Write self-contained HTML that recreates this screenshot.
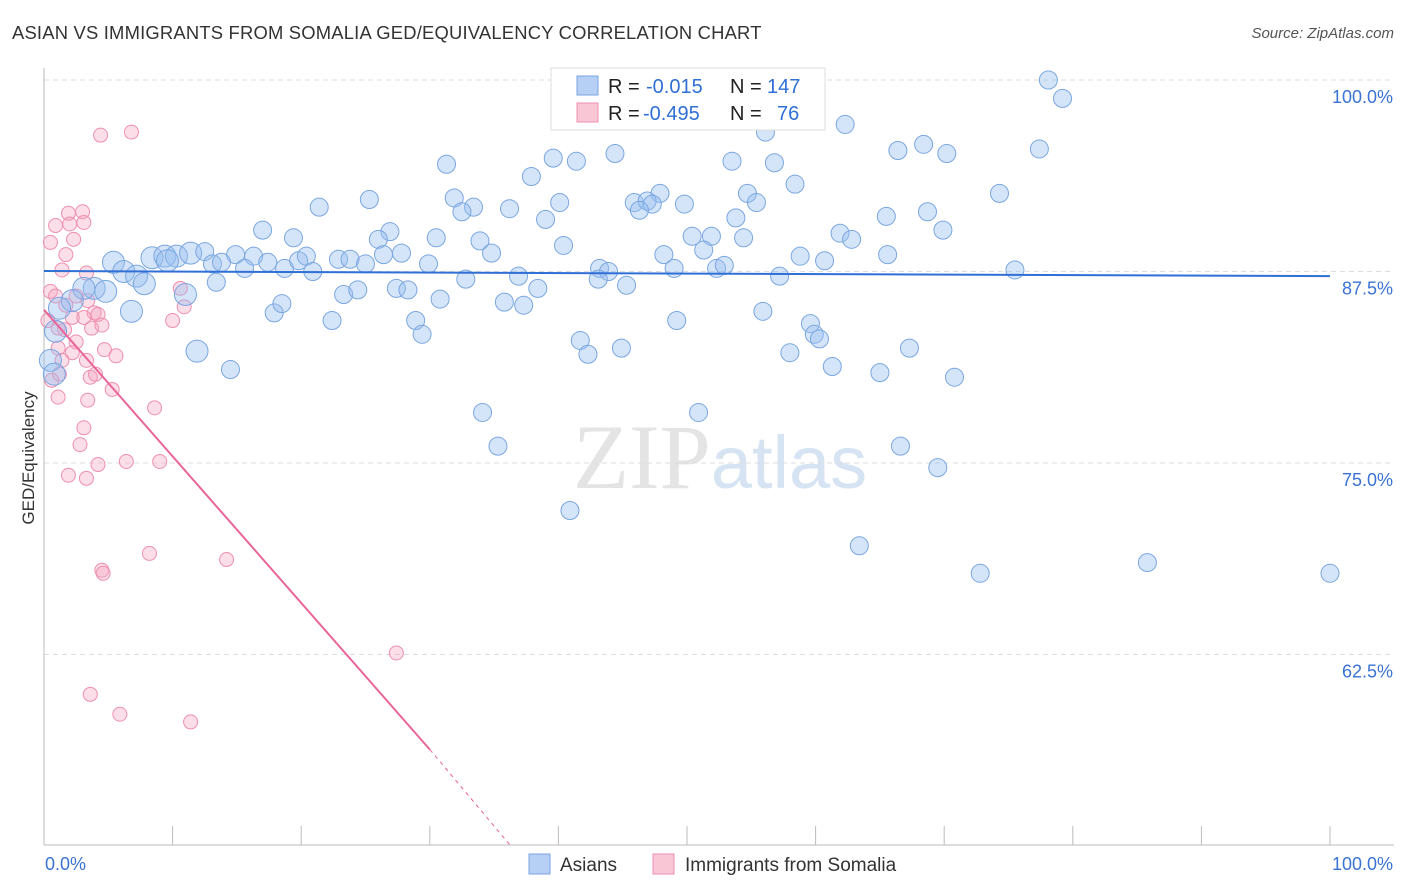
<!DOCTYPE html>
<html><head><meta charset="utf-8">
<style>
body{margin:0;background:#fff;font-family:"Liberation Sans",sans-serif;}
#wrap{position:relative;width:1406px;height:892px;overflow:hidden;}
.t{position:absolute;white-space:nowrap;}
</style></head><body>
<div id="wrap">
<div class="t" style="left:12px;top:22px;font-size:18.4px;color:#333;letter-spacing:0.2px">ASIAN VS IMMIGRANTS FROM SOMALIA GED/EQUIVALENCY CORRELATION CHART</div>
<div class="t" style="right:12px;top:25px;font-size:15px;color:#555;font-style:italic">Source: ZipAtlas.com</div>
<svg id="chart" width="1406" height="892" style="position:absolute;left:0;top:0"></svg>
</div>
<script>
const yTickValues=[100,87.5,75,62.5];
const yTickLabels=["100.0%","87.5%","75.0%","62.5%"];
const xTickValues=[0,10,20,30,40,50,60,70,80,90,100];
const asianX=[78.1,79.2,62.3,56.1,77.4,68.4,66.4,70.2,44.4,39.6,41.4,53.5,56.8,31.3,37.9,58.4,74.3,54.7,47.9,45.9,46.9,47.3,31.9,25.3,21.4,33.4,32.5,36.2,40.1,49.8,55.4,46.3,68.7,65.5,39.0,53.8,17.0,19.4,26.9,26.0,30.5,33.9,40.4,50.4,51.9,54.4,61.9,62.8,69.9,5.4,8.4,9.4,10.3,11.4,12.5,14.9,16.3,9.6,13.1,13.8,15.6,17.4,18.7,19.8,20.4,20.9,22.9,23.8,25.0,26.4,27.8,29.9,34.8,36.9,38.4,35.8,37.3,43.2,43.9,43.1,45.3,48.2,49.0,51.3,52.3,52.9,58.8,60.7,65.6,75.5,57.2,6.2,7.2,7.8,3.9,4.8,3.1,2.2,1.2,6.8,0.9,0.5,0.8,11.0,13.4,17.9,18.5,22.4,23.3,24.4,27.4,28.3,30.8,32.8,28.9,29.4,41.7,42.3,44.9,49.2,55.9,59.6,59.9,60.3,58.0,61.3,65.0,67.3,70.8,11.9,14.5,34.1,35.3,50.9,66.6,69.5,40.9,63.4,72.8,85.8,100];
const asianY=[100.0,98.8,97.1,96.6,95.5,95.8,95.4,95.2,95.2,94.9,94.7,94.7,94.6,94.5,93.7,93.2,92.6,92.6,92.6,92.0,92.1,91.9,92.3,92.2,91.7,91.7,91.4,91.6,92.0,91.9,92.0,91.5,91.4,91.1,90.9,91.0,90.2,89.7,90.1,89.6,89.7,89.5,89.2,89.8,89.8,89.7,90.0,89.6,90.2,88.1,88.4,88.5,88.5,88.7,88.8,88.6,88.5,88.2,88.0,88.1,87.7,88.1,87.7,88.2,88.5,87.5,88.3,88.3,88.0,88.6,88.7,88.0,88.7,87.2,86.4,85.5,85.3,87.7,87.5,87.0,86.6,88.6,87.7,88.9,87.7,87.9,88.5,88.2,88.6,87.6,87.2,87.5,87.2,86.7,86.4,86.2,86.4,85.6,85.1,84.9,83.6,81.7,80.8,86.0,86.8,84.8,85.4,84.3,86.0,86.3,86.4,86.3,85.7,87.0,84.3,83.4,83.0,82.1,82.5,84.3,84.9,84.1,83.4,83.1,82.2,81.3,80.9,82.5,80.6,82.3,81.1,78.3,76.1,78.3,76.1,74.7,71.9,69.6,67.8,68.5,67.8];
const somaliaX=[4.4,6.8,0.9,1.9,2.0,3.0,3.1,2.3,1.7,0.5,1.4,3.3,0.5,0.9,1.7,2.5,3.4,3.9,0.3,1.1,1.6,2.2,3.1,3.7,4.2,4.5,1.1,2.2,2.5,3.3,4.7,5.6,3.6,4.0,1.2,5.3,3.4,1.1,3.1,2.8,4.2,6.4,9.0,1.9,3.3,8.6,10.6,10.9,10.0,8.2,14.2,4.5,4.6,27.4,3.6,5.9,11.4,0.6,1.4];
const somaliaY=[96.4,96.6,90.5,91.3,90.6,91.4,90.7,89.6,88.6,89.4,87.6,87.4,86.2,85.9,85.3,85.9,85.6,84.8,84.3,83.8,83.7,84.5,84.5,83.8,84.7,84.0,82.5,82.2,82.9,81.7,82.4,82.0,80.6,80.8,80.8,79.8,79.1,79.3,77.3,76.2,74.9,75.1,75.1,74.2,74.0,78.6,86.4,85.2,84.3,69.1,68.7,68.0,67.8,62.6,59.9,58.6,58.1,80.4,81.7];
const asianFit=[87.53,87.2]; // value at x=0 and x=100
const somaliaFit=[85.0,56.3,50.1];
const somaliaFitX=[0,30,36.2];

const svg=document.getElementById('chart');
const NS='http://www.w3.org/2000/svg';
const X0=44,X1=1330,YTOP=80,PX=15.32;
function xs(v){return X0+(X1-X0)*v/100;}
function ys(v){return YTOP+(100-v)*PX;}
function el(tag,attrs,parent){const e=document.createElementNS(NS,tag);for(const k in attrs)e.setAttribute(k,attrs[k]);(parent||svg).appendChild(e);return e;}

const wm=el('text',{x:720,y:488,'text-anchor':'middle','font-size':'92','font-family':'Liberation Serif, serif',fill:'#e4e4e4'});


wm.innerHTML='ZIP<tspan fill="#d6e3f3" font-family="Liberation Sans, sans-serif" font-size="74">atlas</tspan>';

yTickValues.forEach((v,i)=>{
  const g=el('line',{x1:X0,x2:1394,y1:ys(v),y2:ys(v),stroke:'#ddd','stroke-dasharray':'5,4'});
  
  
  const t=el('text',{x:1393,y:ys(v)+23,'text-anchor':'end','font-size':'18',fill:'#3b73d4'});
  
  
  t.textContent=yTickLabels[i];
});
const ax=el('line',{x1:X0,x2:1394,y1:845,y2:845,stroke:'#bbb'});


const ay=el('line',{x1:X0,x2:X0,y1:68,y2:845,stroke:'#bbb'});


xTickValues.forEach(v=>{
  const t=el('line',{x1:xs(v),x2:xs(v),y1:826,y2:845,stroke:'#bbb'});
  
  
});
somaliaX.forEach((x,i)=>{
  const c=el('circle',{cx:xs(x),cy:ys(somaliaY[i]),r:7,fill:'rgba(244,160,190,0.35)',stroke:'#ee8fb0','stroke-width':1});
  
  
});
asianX.forEach((x,i)=>{
  const r=x<12?11:9;
  const c=el('circle',{cx:xs(x),cy:ys(asianY[i]),r:r,fill:'rgba(150,190,240,0.4)',stroke:'#7aa6e0','stroke-width':1});
  
  
});
const bl=el('line',{x1:xs(0),y1:ys(asianFit[0]),x2:xs(100),y2:ys(asianFit[1]),stroke:'#2f6fd6','stroke-width':2});


const pl=el('line',{x1:xs(somaliaFitX[0]),y1:ys(somaliaFit[0]),x2:xs(somaliaFitX[1]),y2:ys(somaliaFit[1]),stroke:'#e8659a','stroke-width':2});


const pd=el('line',{x1:xs(somaliaFitX[1]),y1:ys(somaliaFit[1]),x2:xs(somaliaFitX[2]),y2:ys(somaliaFit[2]),stroke:'#e8659a','stroke-width':1,'stroke-dasharray':'4,4'});



const xl0=el('text',{x:45,y:870,'font-size':'18',fill:'#3b73d4'});


xl0.textContent='0.0%';
const xl1=el('text',{x:1393,y:870,'text-anchor':'end','font-size':'18',fill:'#3b73d4'});


xl1.textContent='100.0%';
const yt=el('text',{x:0,y:0,'font-size':'17',fill:'#333','text-anchor':'middle',transform:'translate(34,458) rotate(-90)'});


yt.textContent='GED/Equivalency';

const lg=el('g',{});


el('rect',{x:551,y:68,width:274,height:62,fill:'#fff',stroke:'#ddd'},lg);
el('rect',{x:577,y:76,width:21,height:19,fill:'#b5cff5',stroke:'#7aa6e0'},lg);
el('rect',{x:577,y:103,width:21,height:19,fill:'#f9c6d6',stroke:'#ee8fb0'},lg);
const lt1=el('text',{x:608,y:93,'font-size':'20',fill:'#222'},lg);
lt1.innerHTML='R = <tspan fill="#2f6fd6" x="646">-0.015</tspan><tspan x="730">N =</tspan><tspan fill="#2f6fd6" x="767">147</tspan>';
const lt2=el('text',{x:608,y:120,'font-size':'20',fill:'#222'},lg);
lt2.innerHTML='R = <tspan fill="#2f6fd6" x="643">-0.495</tspan><tspan x="730">N =</tspan><tspan fill="#2f6fd6" x="777">76</tspan>';

const bl1=el('rect',{x:529,y:854,width:21,height:20,fill:'#b5cff5',stroke:'#7aa6e0'});


const bt1=el('text',{x:560,y:871,'font-size':'19',fill:'#333'});


bt1.textContent='Asians';
const bl2=el('rect',{x:653,y:854,width:21,height:20,fill:'#f9c6d6',stroke:'#ee8fb0'});


const bt2=el('text',{x:685,y:871,'font-size':'19',fill:'#333'});


bt2.textContent='Immigrants from Somalia';
</script>
</body></html>
